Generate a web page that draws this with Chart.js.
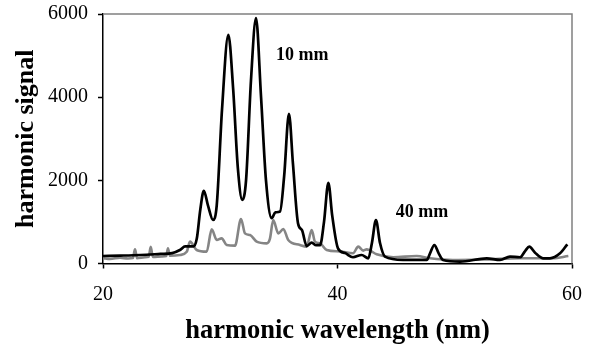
<!DOCTYPE html>
<html>
<head>
<meta charset="utf-8">
<script src="https://cdn.jsdelivr.net/npm/chart.js@4/dist/chart.umd.min.js"></script>
<style>
  html, body { margin: 0; padding: 0; background: #ffffff; }
  #wrap { width: 591px; height: 347px; position: relative; }
</style>
</head>
<body>
<div id="wrap"><canvas id="c" width="591" height="347"></canvas></div>
<script>
// ---- data ----
const wavelength10 = [20.0, 21.5, 23.2, 24.9, 25.9, 26.6, 27.0, 27.7, 28.0, 28.3, 28.6, 28.95, 29.38, 29.7, 30.15, 30.69, 31.1, 31.5, 31.88, 32.2, 32.62, 33.05, 33.48, 33.9, 34.39, 34.7, 35.1, 35.45, 35.86, 36.2, 36.63, 36.97, 37.37, 37.8, 38.17, 38.51, 38.85, 39.22, 39.55, 40.04, 40.64, 41.32, 42.06, 42.63, 42.94, 43.28, 43.62, 44.05, 45.59, 47.61, 47.9, 48.26, 48.62, 49.0, 50.45, 52.73, 53.86, 54.71, 55.57, 56.0, 56.36, 56.85, 57.56, 58.12, 58.98, 59.6];
const signal10 = [180, 190, 205, 230, 250, 330, 410, 410, 600, 1300, 1750, 1400, 1050, 1400, 3700, 5500, 4200, 2300, 1530, 2000, 4400, 5900, 4000, 2000, 1090, 1230, 1250, 2100, 3600, 2400, 970, 800, 420, 500, 440, 440, 1000, 1940, 1150, 365, 250, 150, 205, 125, 500, 1045, 500, 165, 85, 85, 250, 445, 250, 85, 45, 125, 85, 165, 150, 300, 405, 260, 125, 125, 245, 460];

const wavelength40 = [20.0, 20.6, 21.45, 22.13, 22.55, 22.73, 22.9, 23.58, 23.9, 24.07, 24.25, 25.03, 25.4, 25.54, 25.7, 26.57, 27.14, 27.42, 27.99, 28.84, 29.27, 29.7, 30.12, 30.55, 31.26, 31.77, 32.11, 32.54, 33.11, 33.96, 34.24, 34.52, 34.95, 35.38, 35.8, 36.8, 37.37, 37.8, 38.08, 38.51, 39.08, 40.21, 41.32, 41.77, 42.2, 42.49, 43.34, 44.76, 46.75, 47.89, 49.85, 52.73, 55.57, 58.38, 59.69];
const signal40 = [130, 110, 140, 120, 130, 340, 130, 150, 160, 400, 160, 170, 180, 365, 190, 205, 280, 525, 325, 285, 820, 565, 605, 445, 430, 1070, 725, 685, 525, 485, 600, 1045, 725, 830, 565, 445, 405, 805, 525, 485, 325, 290, 245, 405, 310, 340, 220, 150, 180, 125, 85, 100, 125, 125, 180];

const xTicks = [20, 40, 60];
const yTicks = [0, 2000, 4000, 6000];
const seriesLabels = ['10 mm', '40 mm'];

const toPoints = (xs, ys) => xs.map((x, i) => ({ x: x, y: ys[i] }));

const frameAndLabels = {
  id: 'frameAndLabels',
  beforeDatasetsDraw(chart) {
    const { ctx, chartArea: a } = chart;
    ctx.save();
    ctx.strokeStyle = '#808080';
    ctx.lineWidth = 1.5;
    ctx.beginPath();
    ctx.moveTo(a.left, a.top);
    ctx.lineTo(a.right, a.top);
    ctx.lineTo(a.right, a.bottom);
    ctx.stroke();
    ctx.restore();
  },
  afterDatasetsDraw(chart, args, opts) {
    const { ctx, scales } = chart;
    ctx.save();
    ctx.fillStyle = '#000';
    ctx.font = 'bold 18px "Liberation Serif", "Times New Roman", serif';
    ctx.textAlign = 'center';
    ctx.textBaseline = 'alphabetic';
    opts.labels.forEach(l => {
      ctx.fillText(l.text, scales.x.getPixelForValue(l.x), scales.y.getPixelForValue(l.y));
    });
    ctx.restore();
  }
};

const serif = '"Liberation Serif", "Times New Roman", serif';
const plain = v => String(v);

new Chart(document.getElementById('c'), {
  type: 'line',
  data: {
    datasets: [
      {
        label: seriesLabels[0],
        data: toPoints(wavelength10, signal10),
        borderColor: '#000000',
        borderWidth: 2.7,
        pointRadius: 0,
        cubicInterpolationMode: 'monotone',
        fill: false,
        order: 0
      },
      {
        label: seriesLabels[1],
        data: toPoints(wavelength40, signal40),
        borderColor: '#858585',
        borderWidth: 2.6,
        pointRadius: 0,
        cubicInterpolationMode: 'monotone',
        fill: false,
        order: 1
      }
    ]
  },
  options: {
    responsive: false,
    animation: false,
    devicePixelRatio: 1,
    layout: { padding: { left: 0, right: 19, top: 14, bottom: 0 } },
    plugins: {
      legend: { display: false },
      tooltip: { enabled: false },
      frameAndLabels: {
        labels: [
          { text: seriesLabels[0], x: 37.0, y: 4890 },
          { text: seriesLabels[1], x: 47.2, y: 1118 }
        ]
      }
    },
    scales: {
      x: {
        type: 'linear',
        min: 20,
        max: 60,
        afterBuildTicks: s => { s.ticks = xTicks.map(v => ({ value: v })); },
        afterFit: s => { s.height = 83.5; s.paddingLeft = 0; s.paddingRight = 0; },
        ticks: {
          color: '#000',
          font: { family: serif, size: 20 },
          padding: 14,
          maxRotation: 0,
          callback: plain
        },
        grid: { drawOnChartArea: false, drawTicks: true, tickLength: 5, color: '#000', tickWidth: 1.5 },
        border: { display: true, color: '#000', width: 1.5 },
        title: {
          display: true,
          text: 'harmonic wavelength (nm)',
          color: '#000',
          font: { family: serif, size: 26.5, weight: 'bold', lineHeight: 1.2 },
          padding: { top: 0, bottom: 0 }
        }
      },
      y: {
        type: 'linear',
        min: 0,
        max: 6000,
        afterBuildTicks: s => { s.ticks = yTicks.map(v => ({ value: v })); },
        afterFit: s => { s.width = 103; s.paddingTop = 0; s.paddingBottom = 0; },
        ticks: {
          color: '#000',
          font: { family: serif, size: 20 },
          padding: 10,
          callback: plain
        },
        grid: { drawOnChartArea: false, drawTicks: true, tickLength: 5, color: '#000', tickWidth: 1.5 },
        border: { display: true, color: '#000', width: 1.5 },
        title: {
          display: true,
          text: 'harmonic signal',
          color: '#000',
          font: { family: serif, size: 26, weight: 'bold', lineHeight: 1.2 },
          padding: { top: 11, bottom: 0 }
        }
      }
    }
  },
  plugins: [frameAndLabels]
});
</script>
</body>
</html>
